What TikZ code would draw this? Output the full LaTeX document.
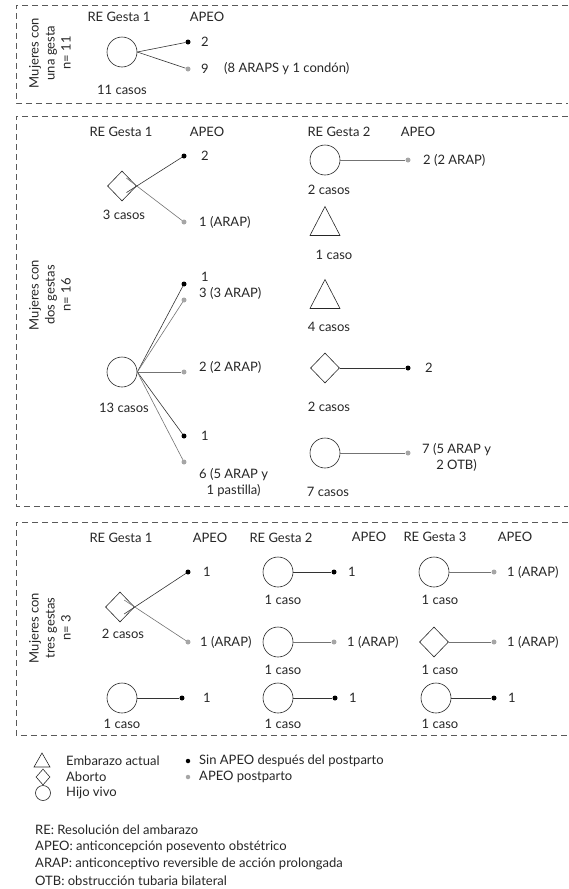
\documentclass[tikz,border=0pt]{standalone}
\usepackage{fontspec}
\setmainfont{Lato}
\usetikzlibrary{shapes.geometric,calc}
\begin{document}
\begin{tikzpicture}[x=1pt,y=-1pt,
  every node/.style={font=\fontsize{13}{16}\selectfont, inner sep=0pt, text=black!85},
  lbl/.style={anchor=west},
  side/.style={rotate=90, align=center, font=\fontsize{13}{16}\selectfont},
  box/.style={draw=black!65, line width=0.6pt, dash pattern=on 6pt off 4pt},
  circ/.style={circle, draw=black!85, line width=0.6pt, minimum size=30pt},
  diam/.style={diamond, draw=black!85, line width=0.6pt, minimum width=29pt, minimum height=30pt},
  bdot/.style={circle, fill=black, minimum size=5pt},
  gdot/.style={circle, fill=black!35, minimum size=5pt},
  conn/.style={draw=black!80, line width=0.6pt},
  gconn/.style={draw=black!55, line width=0.6pt},
  tri/.pic={\draw[black!85, line width=0.6pt] (-15,14.5) -- (0,-14.5) -- (15,14.5) -- cycle;},
  stri/.pic={\draw[black!85, line width=0.6pt] (-8,7) -- (0,-7) -- (8,7) -- cycle;}]
\useasboundingbox (0,0) rectangle (568,889);

% ---------------- Section 1 ----------------
\draw[box] (568,5) -- (16,5) -- (16,103) -- (568,103);
\node[side] (s1) at (50,53) {Mujeres con\\una gesta\\n= 11};
\node (h11) at (119,17) {RE Gesta 1};
\node (h12) at (207,17) {APEO};
\node[circ] (c1) at (122,52) {};
\node[bdot] (d1a) at (188,42) {};
\node[gdot] (d1b) at (188,69) {};
\draw[conn] (c1.east) -- (d1a);
\draw[conn] (c1.east) -- (d1b);
\node[lbl] (t1a) at (201,42) {2};
\node[lbl] (t1b) at (201,69) {9};
\node[lbl] (t1c) at (224,69) {(8 ARAPS y 1 condón)};
\node (k1) at (122,90) {11 casos};

% ---------------- Section 2 ----------------
\draw[box] (568,116) -- (16,116) -- (16,506) -- (568,506);
\node[side] (s2) at (50,295) {Mujeres con\\dos gestas\\n= 16};
\node (h21) at (121,132) {RE Gesta 1};
\node (h22) at (207,132) {APEO};
\node (h23) at (339,132) {RE Gesta 2};
\node (h24) at (418,132) {APEO};

\node[diam] (a21) at (122,186) {};
\node[bdot] (d21) at (184,156) {};
\node[gdot] (d22) at (184,222) {};
\draw[conn] (d21) -- ($(a21.east)!-0.22!(d21)$);
\draw[gconn] (d22) -- ($(a21.east)!-0.22!(d22)$);
\node[lbl] (t21) at (201,156) {2};
\node[lbl] (t22) at (199,222) {1 (ARAP)};
\node (k21) at (124,215) {3 casos};

\node[circ] (c22) at (122,372) {};
\node[bdot] (d23) at (184,284) {};
\node[gdot] (d24) at (184,300) {};
\node[gdot] (d25) at (184,372) {};
\node[bdot] (d26) at (184,436) {};
\node[gdot] (d27) at (184,462) {};
\draw[conn] (c22.east) -- (d23);
\draw[gconn] (c22.east) -- (d24);
\draw[gconn] (c22.east) -- (d25);
\draw[conn] (c22.east) -- (d26);
\draw[gconn] (c22.east) -- (d27);
\node[lbl] (t23) at (201,277) {1};
\node[lbl] (t24) at (199,293) {3 (3 ARAP)};
\node[lbl] (t25) at (199,367) {2 (2 ARAP)};
\node[lbl] (t26) at (201,436) {1};
\node[lbl, align=center, anchor=north west] (t27) at (199,468) {6 (5 ARAP y\\1 pastilla)};
\node (k22) at (124,408) {13 casos};

\node[circ] (c23) at (325,160) {};
\node[gdot] (d28) at (408,160) {};
\draw[gconn] (c23.east) -- (d28);
\node[lbl] (t28) at (423,160) {2 (2 ARAP)};
\node (k23) at (329,190) {2 casos};

\pic at (325,221) {tri};
\node (k24) at (334,255) {1 caso};
\pic at (325,294) {tri};
\node (k25) at (329,327) {4 casos};

\node[diam] (a24) at (325,368) {};
\node[bdot] (d29) at (408,368) {};
\draw[conn] (a24.east) -- (d29);
\node[lbl] (t29) at (425,368) {2};
\node (k26) at (329,407) {2 casos};

\node[circ] (c25) at (325,453) {};
\node[gdot] (d2a) at (408,453) {};
\draw[gconn] (c25.east) -- (d2a);
\node[lbl, align=center, anchor=north west] (t2a) at (422,443) {7 (5 ARAP y\\2 OTB)};
\node (k27) at (328,492) {7 casos};

% ---------------- Section 3 ----------------
\draw[box] (568,522) -- (16,522) -- (16,735) -- (568,735);
\node[side] (s3) at (50,628) {Mujeres con\\tres gestas\\n= 3};
\node (h31) at (121,538) {RE Gesta 1};
\node (h32) at (210,538) {APEO};
\node (h33) at (281,538) {RE Gesta 2};
\node (h34) at (369,537) {APEO};
\node (h35) at (435,537) {RE Gesta 3};
\node (h36) at (515,537) {APEO};

\node[diam] (a31) at (120,607) {};
\node[bdot] (d31) at (188,572) {};
\node[gdot] (d32) at (188,642) {};
\draw[conn] (d31) -- ($(a31.east)!-0.2!(d31)$);
\draw[gconn] (d32) -- ($(a31.east)!-0.2!(d32)$);
\node[lbl] (t31) at (203,572) {1};
\node[lbl] (t32) at (200,642) {1 (ARAP)};
\node (k31) at (123,634) {2 casos};

\node[circ] (c32) at (278,572) {};
\node[bdot] (d33) at (334,572) {};
\draw[conn] (c32.east) -- (d33);
\node[lbl] (t33) at (348,572) {1};
\node (k32) at (283,600) {1 caso};

\node[circ] (c33) at (278,642) {};
\node[gdot] (d34) at (334,642) {};
\draw[gconn] (c33.east) -- (d34);
\node[lbl] (t34) at (347,642) {1 (ARAP)};
\node (k33) at (283,670) {1 caso};

\node[circ] (c34) at (434,572) {};
\node[gdot] (d35) at (494,572) {};
\draw[gconn] (c34.east) -- (d35);
\node[lbl] (t35) at (507,572) {1 (ARAP)};
\node (k34) at (440,600) {1 caso};

\node[diam] (a35) at (434,642) {};
\node[gdot] (d36) at (494,642) {};
\draw[gconn] (a35.east) -- (d36);
\node[lbl] (t36) at (507,642) {1 (ARAP)};
\node (k35) at (440,670) {1 caso};

\node[circ] (c36) at (122,698) {};
\node[bdot] (d37) at (182,698) {};
\draw[conn] (c36.east) -- (d37);
\node[lbl] (t37) at (203,698) {1};
\node (k36) at (122,724) {1 caso};

\node[circ] (c37) at (278,698) {};
\node[bdot] (d38) at (335,698) {};
\draw[conn] (c37.east) -- (d38);
\node[lbl] (t38) at (349,698) {1};
\node (k37) at (283,724) {1 caso};

\node[circ] (c38) at (436,698) {};
\node[bdot] (d39) at (494,698) {};
\draw[conn] (c38.east) -- (d39);
\node[lbl] (t39) at (508,698) {1};
\node (k38) at (440,724) {1 caso};

% ---------------- Legend ----------------
\pic at (42,760) {stri};
\node[lbl] (l1) at (66,761) {Embarazo actual};
\node[diamond, draw=black!85, line width=0.6pt, minimum width=14pt, minimum height=16pt] (l2s) at (43,777) {};
\node[lbl] (l2) at (66,777) {Aborto};
\node[circle, draw=black!85, line width=0.6pt, minimum size=15pt] (l3s) at (43,793) {};
\node[lbl] (l3) at (66,793) {Hijo vivo};
\node[bdot, minimum size=4.5pt] (l4s) at (188,761) {};
\node[lbl] (l4) at (199,761) {Sin APEO después del postparto};
\node[gdot, minimum size=4.5pt] (l5s) at (188,777) {};
\node[lbl] (l5) at (199,777) {APEO postparto};

\node[lbl] (n1) at (35,830) {RE: Resolución del ambarazo};
\node[lbl] (n2) at (35,847) {APEO: anticoncepción posevento obstétrico};
\node[lbl] (n3) at (35,864) {ARAP: anticonceptivo reversible de acción prolongada};
\node[lbl] (n4) at (35,881) {OTB: obstrucción tubaria bilateral};
\end{tikzpicture}
\end{document}
